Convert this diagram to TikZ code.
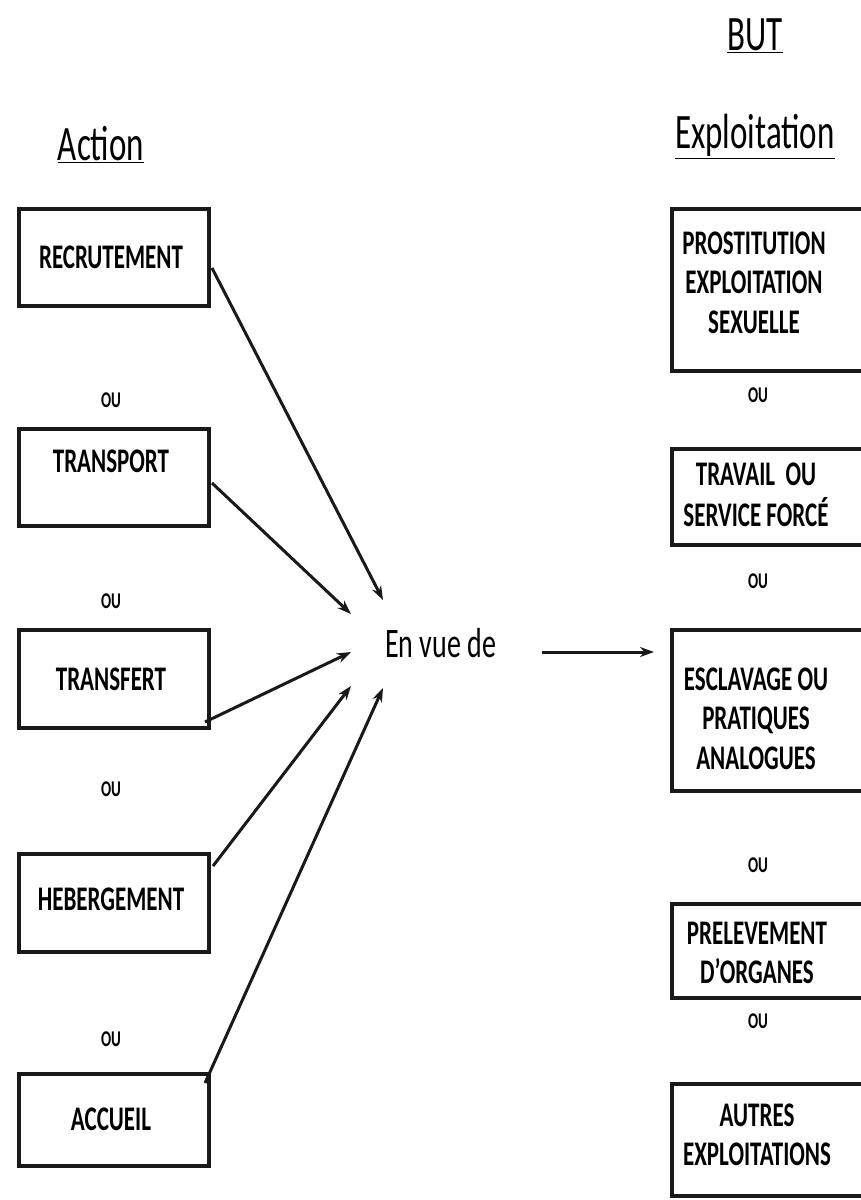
\documentclass[tikz,border=0pt]{standalone}
\usepackage{fontspec}
\setmainfont{Carlito}
\usepackage{graphicx}
\usetikzlibrary{arrows.meta,calc}
\newcommand\vsc[1]{\scalebox{1}[1.5]{#1}}
\newcommand\ml[1]{\vsc{\begin{tabular}{@{}c@{}}#1\end{tabular}}}
\begin{document}
\begin{tikzpicture}[x=1pt,y=-1pt,
 box/.style={draw=black!90, line width=4pt, inner sep=0pt},
 lbox/.style={box, minimum width=190pt},
 rbox/.style={box, minimum width=220pt},
 lbl/.style={font=\bfseries\fontsize{23}{26.5}\selectfont, inner sep=0pt},
 oulbl/.style={font=\bfseries\fontsize{15}{18}\selectfont, inner sep=0pt, anchor=base},
 head/.style={font=\fontsize{33}{40}\selectfont, inner sep=0pt, anchor=base},
 arr/.style={draw=black!90, line width=3pt, -{Stealth[length=14pt,width=10pt]}}]
\clip (0,0) rectangle (861,1200);
\fill[white] (0,0) rectangle (861,1200);

% headings
\node[head] (action) at (101,160) {\vsc{\underline{Action}}};
\node[head] (but) at (755,50) {\vsc{\underline{BUT}}};
\node[head] (exploit) at (755,148) {\vsc{\underline{Exploitation}}};

% left boxes
\node[lbox, minimum height=97pt] (recrut) at (114,257.5) {};
\node[lbox, minimum height=97pt] (transport) at (114,477.5) {};
\node[lbox, minimum height=98pt] (transfert) at (114,679) {};
\node[lbox, minimum height=98pt] (heberg) at (114,903) {};
\node[lbox, minimum height=92pt] (accueil) at (114,1120) {};

\node[lbl, anchor=base] (recrutT) at (111,268) {\vsc{RECRUTEMENT}};
\node[lbl, anchor=base] (transportT) at (111,472) {\vsc{TRANSPORT}};
\node[lbl, anchor=base] (transfertT) at (111,690) {\vsc{TRANSFERT}};
\node[lbl, anchor=base] (hebergT) at (111,910) {\vsc{HEBERGEMENT}};
\node[lbl, anchor=base] (accueilT) at (111,1130) {\vsc{ACCUEIL}};

\node[oulbl] (ouL1) at (111,407) {\vsc{OU}};
\node[oulbl] (ouL2) at (111,608) {\vsc{OU}};
\node[oulbl] (ouL3) at (111,796) {\vsc{OU}};
\node[oulbl] (ouL4) at (111,1046) {\vsc{OU}};

% right boxes
\node[rbox, minimum height=162pt] (prost) at (782,290) {};
\node[rbox, minimum height=96pt] (travail) at (782,497) {};
\node[rbox, minimum height=161pt] (escl) at (782,710.5) {};
\node[rbox, minimum height=94pt] (prelev) at (782,951) {};
\node[rbox, minimum height=112pt] (autres) at (782,1140) {};

\node[lbl] (prostT) at (754,286) {\ml{PROSTITUTION\\EXPLOITATION\\SEXUELLE}};
\node[lbl] (travailT) at (756,498) {\ml{TRAVAIL\ \ OU\\SERVICE FORCÉ}};
\node[lbl] (esclT) at (756,722) {\ml{ESCLAVAGE OU\\PRATIQUES\\ANALOGUES}};
\node[lbl] (prelevT) at (757,956) {\ml{PRELEVEMENT\\D'ORGANES}};
\node[lbl] (autresT) at (757,1138) {\ml{AUTRES\\EXPLOITATIONS}};

\node[oulbl] (ouR1) at (758,402) {\vsc{OU}};
\node[oulbl] (ouR2) at (758,588) {\vsc{OU}};
\node[oulbl] (ouR3) at (758,872) {\vsc{OU}};
\node[oulbl] (ouR4) at (758,1028) {\vsc{OU}};

% center
\node[font=\fontsize{28}{34}\selectfont, inner sep=0pt, anchor=base west] (vue) at (385,657) {\vsc{En vue de}};

\coordinate (t1) at (383,600);
\coordinate (t2) at (351,614);
\coordinate (t3) at (351,652);
\coordinate (t4) at (351,686);
\coordinate (t5) at (383,688);
\coordinate (mainS) at (542,652);
\coordinate (mainE) at (654,652);

\draw[arr] ($(recrut.east)+(1,10.5)$) -- (t1);
\draw[arr] ($(transport.east)+(1,5.5)$) -- (t2);
\draw[arr] ($(transfert.south east)+(-6,-8)$) -- (t3);
\draw[arr] ($(heberg.north east)+(2,14)$) -- (t4);
\draw[arr] ($(accueil.north east)+(-6,11)$) -- (t5);
\draw[arr] (mainS) -- (mainE);
\end{tikzpicture}
\end{document}
